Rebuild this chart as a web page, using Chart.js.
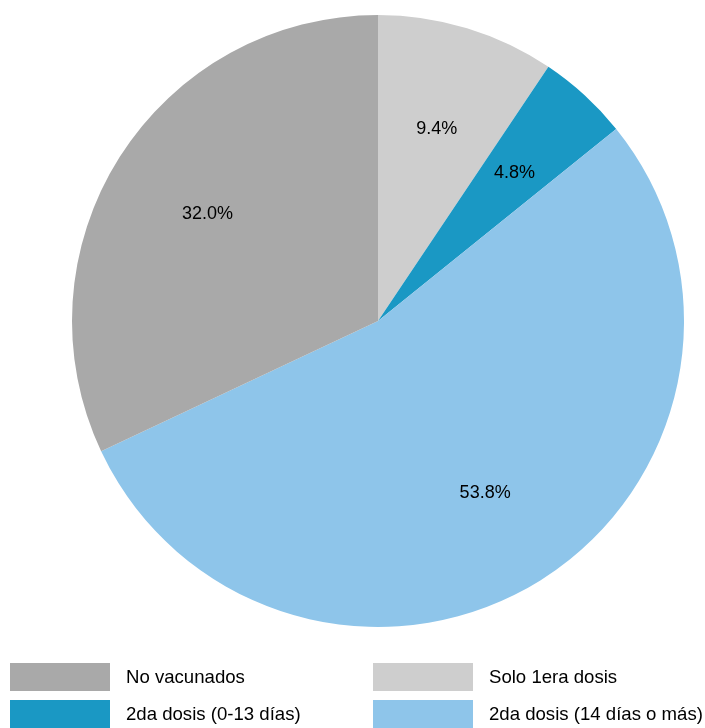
<!DOCTYPE html>
<html>
<head>
<meta charset="utf-8">
<script src="https://cdn.jsdelivr.net/npm/chart.js@4"></script>
<style>
  body { margin: 0; background: #fff; }
  #wrap { position: relative; width: 705px; height: 728px; }
  #legend { position: absolute; left: 0; top: 0; width: 705px; height: 728px; pointer-events: none;
    font-family: "Liberation Sans", Arial, sans-serif; font-size: 18.6px; color: #000; }
  .item { position: absolute; height: 28px; line-height: 28px; white-space: nowrap; }
  .box { position: absolute; left: 0; top: 0; width: 100px; height: 28px; }
  .txt { position: absolute; left: 116px; top: 0; }
</style>
</head>
<body>
<div id="wrap">
  <canvas id="pieChart" width="705" height="728"></canvas>
  <div id="legend"></div>
</div>
<script>
  // slices, clockwise from the top
  const categories = ['Solo 1era dosis', '2da dosis (0-13 días)', '2da dosis (14 días o más)', 'No vacunados'];
  const shares = [9.4, 4.8, 53.8, 32.0];
  const colors = ['#cecece', '#1a98c4', '#8ec5ea', '#a9a9a9'];

  // legend order as in the picture (2 x 2 grid)
  const legendOrder = ['No vacunados', 'Solo 1era dosis', '2da dosis (0-13 días)', '2da dosis (14 días o más)'];

  const sliceLabels = {
    id: 'sliceLabels',
    afterDatasetsDraw(chart) {
      const ctx = chart.ctx;
      const meta = chart.getDatasetMeta(0);
      ctx.save();
      ctx.font = '18px "Liberation Sans", Arial, sans-serif';
      ctx.fillStyle = '#000';
      ctx.textAlign = 'center';
      ctx.textBaseline = 'middle';
      meta.data.forEach((arc, i) => {
        const mid = (arc.startAngle + arc.endAngle) / 2;
        const r = arc.outerRadius * 0.66;
        ctx.fillText(shares[i].toFixed(1) + '%', arc.x + Math.cos(mid) * r, arc.y + Math.sin(mid) * r + 1);
      });
      ctx.restore();
    }
  };

  const ctx = document.getElementById('pieChart').getContext('2d');
  new Chart(ctx, {
    type: 'pie',
    data: {
      labels: categories,
      datasets: [{
        data: shares,
        backgroundColor: colors,
        borderWidth: 0
      }]
    },
    options: {
      responsive: false,
      animation: false,
      layout: { padding: { left: 72, right: 21, top: 15, bottom: 101 } },
      plugins: {
        legend: { display: false },
        tooltip: { enabled: false }
      }
    },
    plugins: [sliceLabels]
  });

  // legend
  const legend = document.getElementById('legend');
  legendOrder.forEach((name, k) => {
    const i = categories.indexOf(name);
    const item = document.createElement('div');
    item.className = 'item';
    item.style.left = (k % 2 === 0 ? 10 : 373) + 'px';
    item.style.top = (k < 2 ? 663 : 700) + 'px';
    const box = document.createElement('div');
    box.className = 'box';
    box.style.background = colors[i];
    const txt = document.createElement('div');
    txt.className = 'txt';
    txt.textContent = name;
    item.appendChild(box);
    item.appendChild(txt);
    legend.appendChild(item);
  });
</script>
</body>
</html>
